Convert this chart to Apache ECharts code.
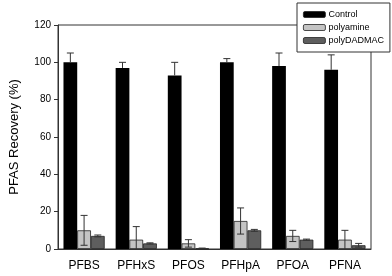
<!DOCTYPE html>
<html><head><meta charset="utf-8">
<script src="https://cdn.jsdelivr.net/npm/echarts@6/dist/echarts.min.js"></script>
<style>html,body{margin:0;padding:0;background:#fff}#c{width:392px;height:276px}</style>
</head><body><div id="c"></div>
<script>
const categories = ['PFBS','PFHxS','PFOS','PFHpA','PFOA','PFNA'];
const seriesNames = ['Control','polyamine','polyDADMAC'];
const control = [100, 97, 93, 100, 98, 96];
const controlErr = [5, 3, 7, 2, 7, 8];
const polyamine = [10, 5, 3, 15, 7, 5];
const polyamineErr = [8, 7, 2, 7, 3, 5];
const polyDADMAC = [7, 3, 0.3, 10, 5, 2];
const polyDADMACErr = [0.5, 0.3, 0.2, 0.5, 0.3, 1];
const yTicks = [0, 20, 40, 60, 80, 100, 120];

const fills = ['#000000', '#c4c4c4', '#5e5e5e'];
const values = [control, polyamine, polyDADMAC];
const errs = [controlErr, polyamineErr, polyDADMACErr];
const GAP = 0.21;
const font = 'Liberation Sans, Arial, sans-serif';

const chart = echarts.init(document.getElementById('c'));
const series = [];
seriesNames.forEach((n, i) => {
  series.push({
    name: n, type: 'bar', data: values[i],
    barGap: 0, barCategoryGap: (GAP * 100) + '%',
    itemStyle: { color: fills[i], borderColor: '#222', borderWidth: i === 0 ? 0 : 0.8 },
    z: 2
  });
});
seriesNames.forEach((n, i) => {
  series.push({
    type: 'custom', name: n + ' err', z: 5, silent: true,
    data: categories.map((c, k) => [k, values[i][k] - errs[i][k], values[i][k] + errs[i][k], values[i][k]]),
    renderItem: function (params, api) {
      const k = api.value(0);
      const loVal = i === 0 ? api.value(3) : Math.max(0, api.value(1));
      const lo = api.coord([k, loVal]);
      const hi = api.coord([k, api.value(2)]);
      const band = api.size([1, 0])[0];
      const gw = band * (1 - GAP);
      const bw = gw / 3;
      const x = lo[0] - gw / 2 + bw * (i + 0.5);
      const cap = 3.5;
      const st = { stroke: '#333', lineWidth: 1 };
      const children = [
        { type: 'line', shape: { x1: x, y1: lo[1], x2: x, y2: hi[1] }, style: st },
        { type: 'line', shape: { x1: x - cap, y1: hi[1], x2: x + cap, y2: hi[1] }, style: st }
      ];
      if (i > 0 && api.value(1) > 0) children.push({ type: 'line', shape: { x1: x - cap, y1: lo[1], x2: x + cap, y2: lo[1] }, style: st });
      return { type: 'group', children: children };
    }
  });
});

chart.setOption({
  animation: false,
  textStyle: { fontFamily: font },
  grid: { left: 52, right: 21, top: 25, bottom: 27, show: true, borderColor: '#333', borderWidth: 1, backgroundColor: 'transparent' },
  legend: {
    data: seriesNames, orient: 'vertical', left: 297, top: 3,
    itemWidth: 22, itemHeight: 6, itemGap: 4,
    padding: [7, 6, 7, 6],
    backgroundColor: '#fff', borderColor: '#333', borderWidth: 1,
    textStyle: { fontSize: 9, fontFamily: font, color: '#000', padding: [0, 0, 0, -2] },
    itemStyle: { borderColor: '#222', borderWidth: 0.8 },
    z: 10
  },
  xAxis: {
    type: 'category', data: categories,
    axisLine: { lineStyle: { color: '#333' } },
    axisTick: { alignWithLabel: true, length: 3, lineStyle: { color: '#333' } },
    axisLabel: { fontSize: 12, color: '#000', margin: 11 }
  },
  yAxis: {
    type: 'value', min: 0, max: 120, interval: 20,
    name: 'PFAS Recovery (%)', nameLocation: 'middle', nameGap: 37,
    nameTextStyle: { fontSize: 13, color: '#000' },
    splitLine: { show: false },
    axisLine: { show: true, lineStyle: { color: '#333' } },
    axisTick: { show: true, length: 4, lineStyle: { color: '#333' } },
    axisLabel: { fontSize: 10, color: '#000', margin: 7, formatter: v => yTicks.includes(v) ? String(v) : '' }
  },
  series: series
});
</script></body></html>
